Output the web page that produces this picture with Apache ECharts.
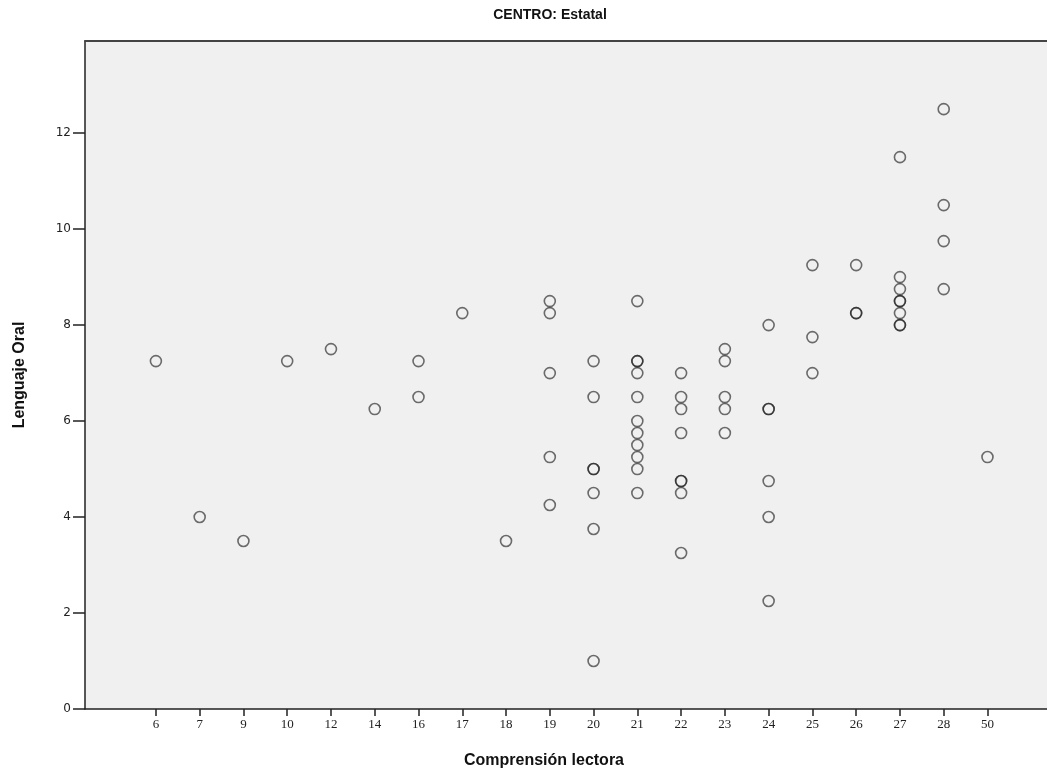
<!DOCTYPE html>
<html>
<head>
<meta charset="utf-8">
<script src="https://cdn.jsdelivr.net/npm/echarts@6/dist/echarts.min.js"></script>
<style>
  html, body { margin: 0; padding: 0; background: #fff; }
  #main { width: 1047px; height: 778px; }
</style>
</head>
<body>
<div id="main"></div>
<script>
// categorías del eje X (Comprensión lectora)
var categories = ['6', '7', '9', '10', '12', '14', '16', '17', '18', '19', '20', '21', '22', '23', '24', '25', '26', '27', '28', '50'];
var yTicks = [0, 2, 4, 6, 8, 10, 12];

// puntos: comprensión lectora / lenguaje oral (los repetidos salen más oscuros)
var compLectora = [
  '6', '7', '9', '10', '12', '14', '16', '16', '17', '18',
  '19', '19', '19', '19', '19',
  '20', '20', '20', '20', '20', '20', '20',
  '21', '21', '21', '21', '21', '21', '21', '21', '21', '21', '21',
  '22', '22', '22', '22', '22', '22', '22', '22',
  '23', '23', '23', '23', '23',
  '24', '24', '24', '24', '24', '24',
  '25', '25', '25',
  '26', '26', '26',
  '27', '27', '27', '27', '27', '27', '27', '27',
  '28', '28', '28', '28',
  '50'
];
var lenguajeOral = [
  7.25, 4.0, 3.5, 7.25, 7.5, 6.25, 7.25, 6.5, 8.25, 3.5,
  8.5, 8.25, 7.0, 5.25, 4.25,
  7.25, 6.5, 5.0, 5.0, 4.5, 3.75, 1.0,
  8.5, 7.25, 7.25, 7.0, 6.5, 6.0, 5.75, 5.5, 5.25, 5.0, 4.5,
  7.0, 6.5, 6.25, 5.75, 4.75, 4.75, 4.5, 3.25,
  7.5, 7.25, 6.5, 6.25, 5.75,
  8.0, 6.25, 6.25, 4.75, 4.0, 2.25,
  9.25, 7.75, 7.0,
  9.25, 8.25, 8.25,
  11.5, 9.0, 8.75, 8.5, 8.5, 8.25, 8.0, 8.0,
  12.5, 10.5, 9.75, 8.75,
  5.25
];

var points = compLectora.map(function (c, i) {
  return [categories.indexOf(c), lenguajeOral[i]];
});
var catIdx = categories.map(function (c, i) { return i; });
var xMin = -1.62, xMax = 20.36;

var myChart = echarts.init(document.getElementById('main'));
myChart.setOption({
  animation: false,
  backgroundColor: '#ffffff',
  title: {
    text: 'CENTRO: Estatal',
    left: 545,
    top: 3,
    textAlign: 'center',
    textStyle: { fontFamily: 'Liberation Sans', fontSize: 14, fontWeight: 'bold', color: '#111' }
  },
  // el área del gráfico sigue más allá del borde derecho: sin marco a la derecha
  grid: {
    left: 85, top: 41, right: 0, bottom: 69,
    show: true,
    backgroundColor: '#f0f0f0',
    borderWidth: 0
  },
  xAxis: [{
    type: 'value',
    min: xMin,
    max: xMax,
    name: 'Comprensión lectora',
    nameLocation: 'middle',
    nameGap: 44,
    nameTextStyle: {
      fontFamily: 'Liberation Sans', fontSize: 16, fontWeight: 'bold', color: '#111',
      padding: [0, 44, 0, 0]
    },
    axisLine: { onZero: false, lineStyle: { color: '#222', width: 1.5 } },
    axisTick: { customValues: catIdx, length: 7, lineStyle: { color: '#222', width: 1.5 } },
    axisLabel: {
      customValues: catIdx,
      formatter: function (v) { return categories[v]; },
      fontFamily: 'Liberation Serif', fontSize: 13, color: '#222', margin: 9
    },
    splitLine: { show: false }
  }, {
    // línea superior del marco
    type: 'value',
    position: 'top',
    min: xMin,
    max: xMax,
    axisLine: { onZero: false, lineStyle: { color: '#444', width: 2 } },
    axisTick: { show: false },
    axisLabel: { show: false },
    splitLine: { show: false }
  }],
  yAxis: {
    type: 'value',
    min: 0,
    max: 13.92,
    name: 'Lenguaje Oral',
    nameLocation: 'middle',
    nameGap: 57,
    nameTextStyle: { fontFamily: 'Liberation Sans', fontSize: 16, fontWeight: 'bold', color: '#111' },
    axisLine: { onZero: false, lineStyle: { color: '#222', width: 1.5 } },
    axisTick: { customValues: yTicks, length: 12, lineStyle: { color: '#222', width: 1.5 } },
    axisLabel: {
      customValues: yTicks,
      fontFamily: 'DejaVu Sans', fontSize: 12, color: '#222', margin: 14
    },
    splitLine: { show: false }
  },
  series: [{
    type: 'scatter',
    xAxisIndex: 0,
    data: points,
    symbol: 'circle',
    symbolSize: 11,
    itemStyle: {
      color: 'rgba(0,0,0,0)',
      borderColor: 'rgba(30,30,30,0.8)',
      borderWidth: 1.6
    }
  }]
});
</script>
</body>
</html>
